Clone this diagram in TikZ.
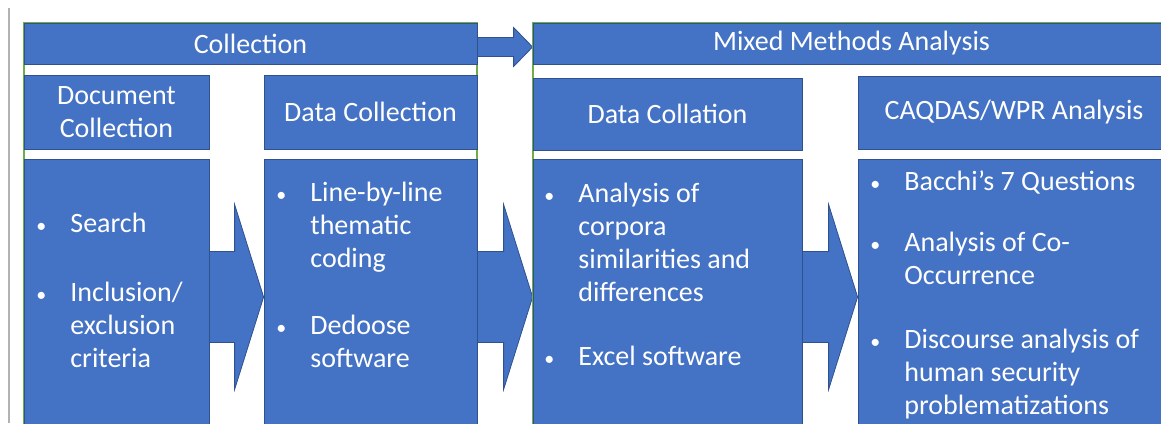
\documentclass[tikz,border=0pt]{standalone}
\usepackage{fontspec}
\setmainfont{Carlito}
\usetikzlibrary{calc,backgrounds}
\definecolor{officeblue}{HTML}{4472C4}
\definecolor{boxline}{HTML}{2F528F}
\definecolor{grpgreen}{HTML}{70AD47}
\newcommand{\bul}{\llap{{\fontsize{10}{12}\selectfont\textbullet}\hspace{12pt}}}

\begin{document}
\begin{tikzpicture}[x=0.5pt, y=-0.5pt,
    grp/.style={draw=grpgreen, line width=0.6pt, minimum width=#1, minimum height=208.5pt, inner sep=0},
    cell/.style={draw=boxline, line width=0.4pt, fill=officeblue, text=white, inner sep=0, align=center, font=\fontsize{14}{16.5}\selectfont},
    blist/.style={anchor=base west, align=left, text=white, inner sep=0, font=\fontsize{14}{16.5}\selectfont},
    barrow/.style={fill=officeblue, draw=boxline, line width=0.4pt}
]
\begin{pgfonlayer}{background}
\fill[white] (0,0) rectangle (1161,423);
\end{pgfonlayer}
\useasboundingbox (0,0) rectangle (1161,423);
\clip (0,0) rectangle (1161,423);
\draw[gray!60, line width=1pt] (9,8) -- (9,423);

% the two stages
\node[grp=226.5pt] (colgrp) at (250.5,231.5) {};
\node[grp=318.5pt] (mixgrp) at (851.5,231.5) {};
\node[cell, minimum width=226.5pt, minimum height=20.5pt] (colhead) at (250.5,43.5) {Collection};
\node[cell, minimum width=318.5pt, minimum height=20.5pt] (mixhead) at (851.5,43.5) {Mixed Methods Analysis};

% step titles
\node[cell, minimum width=92.5pt, minimum height=37pt] (doch) at (116.5,112) {Document\\Collection};
\node[cell, minimum width=106.5pt, minimum height=37pt] (dcolh) at (370.5,112) {Data Collection};
\node[cell, minimum width=134.5pt, minimum height=36pt] (dcollh) at (667.5,114) {Data Collation};
\node[cell, minimum width=156pt, minimum height=36.5pt] (caqh) at (1014,112.5) {CAQDAS/WPR Analysis};

% step bodies
\node[cell, minimum width=92.5pt, minimum height=138pt] (docb) at (116.5,297) {};
\node[cell, minimum width=106.5pt, minimum height=138pt] (dcolb) at (370.5,297) {};
\node[cell, minimum width=134.5pt, minimum height=138pt] (dcollb) at (667.5,297) {};
\node[cell, minimum width=156pt, minimum height=138pt] (caqb) at (1014,297) {};

% lists, placed by the baseline of their last line
\node[blist] (docl) at (70,367) {\bul Search\\[18pt]\bul Inclusion/\\exclusion\\criteria};
\node[blist] (dcoll) at (310,367) {\bul Line-by-line\\thematic\\coding\\[17pt]\bul Dedoose\\software};
\node[blist] (dcolll) at (578,365) {\bul Analysis of\\corpora\\similarities and\\differences\\[15.5pt]\bul Excel software};
\node[blist] (caql) at (904,414) {\bul Bacchi’s 7 Questions\\[14pt]\bul Analysis of Co-\\Occurrence\\[15.5pt]\bul Discourse analysis of\\human security\\problematizations};

% block arrows
\begin{pgfonlayer}{background}
\draw[barrow] ($(colhead.east)+(0,-6)$) -- ($(mixhead.west)+(-19,-6)$) -- ($(mixhead.west)+(-19,-16)$) -- ($(mixhead.west)+(0,3.5)$) -- ($(mixhead.west)+(-19,23)$) -- ($(mixhead.west)+(-19,13)$) -- ($(colhead.east)+(0,13)$) -- cycle;
\foreach \a/\b in {docb/dcolb, dcolb/dcollb, dcollb/caqb}
  \draw[barrow] ($(\a.east)+(0,-45.5)$) -- ($(\b.west)+(-29,-45.5)$) -- ($(\b.west)+(-29,-92.5)$) -- (\b.west) -- ($(\b.west)+(-29,92.5)$) -- ($(\b.west)+(-29,45.5)$) -- ($(\a.east)+(0,45.5)$) -- cycle;
\end{pgfonlayer}
\end{tikzpicture}
\end{document}
